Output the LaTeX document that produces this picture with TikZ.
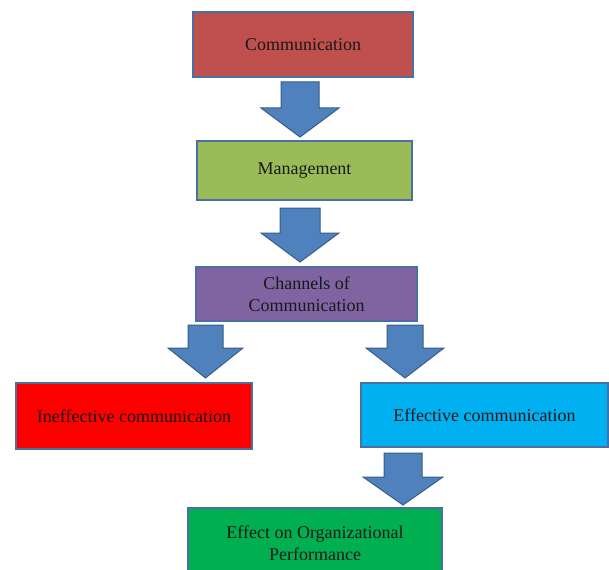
\documentclass[tikz,border=0pt]{standalone}
\usepackage{fontspec}
\setmainfont{Liberation Serif}
\definecolor{cRed}{HTML}{C0504D}
\definecolor{cGreen}{HTML}{9BBB59}
\definecolor{cPurple}{HTML}{8064A2}
\definecolor{cBright}{HTML}{FF0000}
\definecolor{cCyan}{HTML}{00B0F0}
\definecolor{cDGreen}{HTML}{00B050}
\definecolor{cBorder}{HTML}{4A6FA5}
\definecolor{arrFill}{HTML}{4F81BD}
\definecolor{arrLine}{HTML}{385D8A}
\tikzset{
  box/.style={rectangle, draw=cBorder, line width=1.2pt, align=center,
    font=\fontsize{18}{21.5}\selectfont, text=black!90, inner sep=0pt},
  blockarrow/.style={fill=arrFill, draw=arrLine, line width=1pt, line join=miter}
}
\newcommand{\blkarrow}[6]{%
  \draw[blockarrow] (#1-#5,#2) -- (#1+#5,#2) -- (#1+#5,#3) -- (#1+#6,#3)
    -- (#1,#4) -- (#1-#6,#3) -- (#1-#5,#3) -- cycle;}
\begin{document}
\begin{tikzpicture}[x=1pt,y=-1pt]
\clip (0,0) rectangle (609,569);
\fill[white] (0,0) rectangle (609,569);
\node[box, fill=cRed, minimum width=220pt, minimum height=65pt] (comm) at (303,44.5) {Communication};
\node[box, fill=cGreen, minimum width=215pt, minimum height=59pt] (mgmt) at (304.5,170.5) {Management};
\node[box, fill=cPurple, minimum width=221pt, minimum height=54pt] (chan) at (306.5,294) {Channels of\\Communication};
\node[box, fill=cBright, minimum width=236pt, minimum height=66pt] (inef) at (134,416) {Ineffective communication};
\node[box, fill=cCyan, minimum width=247pt, minimum height=64pt] (eff) at (484.5,415) {Effective communication};
\node[box, fill=cDGreen, minimum width=254pt, minimum height=70pt] (perf) at (315,543) {Effect on Organizational\\Performance};
% block arrows
\blkarrow{300}{82}{108}{137}{19}{39}
\blkarrow{300}{208}{233}{262}{20}{39}
\blkarrow{205.5}{325}{348}{378}{17.5}{37.5}
\blkarrow{405}{325}{348}{378}{18}{39}
\blkarrow{403}{453}{477}{505}{19}{40}
\end{tikzpicture}
\end{document}
